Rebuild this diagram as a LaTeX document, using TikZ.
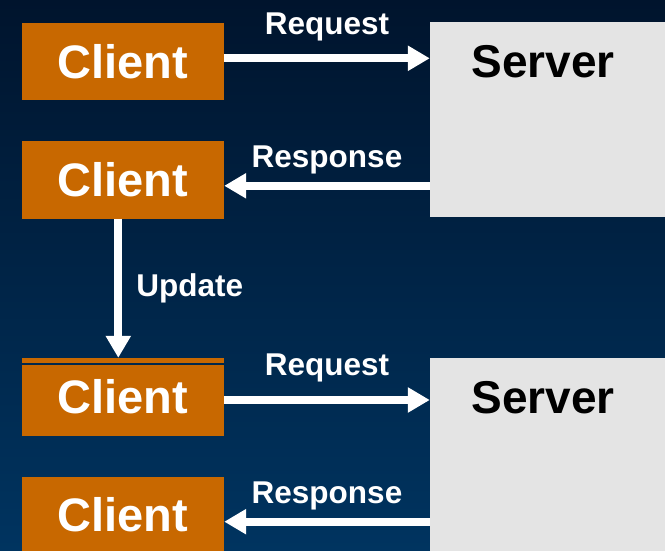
\documentclass[tikz,border=0pt]{standalone}
\usepackage{fontspec}
\setsansfont{Liberation Sans}
\usetikzlibrary{positioning, arrows.meta}

\definecolor{bgtop}{RGB}{0,20,45}
\definecolor{bgbottom}{RGB}{0,52,96}
\definecolor{seamblue}{RGB}{0,40,76}
\definecolor{clientorange}{RGB}{200,104,0}
\definecolor{servergray}{RGB}{228,228,228}

\begin{document}
\begin{tikzpicture}[
    % GLOBAL CFG
    x=1pt, y=-1pt,
    font=\sffamily\bfseries,
    >={Triangle[length=22pt,width=24pt]},
    % Styles
    client/.style={% For the orange client boxes
        rectangle,
        fill=clientorange,
        text=white,
        font=\sffamily\bfseries\fontsize{47}{50}\selectfont,
        minimum width=202pt,
        minimum height=77pt,
        inner sep=0pt,
        },
    server/.style={% For the grey server boxes
        rectangle,
        fill=servergray,
        minimum width=240pt,
        inner sep=0pt,
        },
    servername/.style={% Text on top of the server
        text=black,
        font=\sffamily\bfseries\fontsize{46}{50}\selectfont,
        inner sep=0pt,
        },
    msglabel/.style={% Request, Response, Update
        text=white,
        font=\sffamily\bfseries\fontsize{31.5}{34}\selectfont,
        inner sep=0pt,
        },
    msg/.style={% White fat arrows
        ->,
        white,
        line width=8pt,
        },
    ]

    % Background
    \useasboundingbox (0,0) rectangle (665,551);
    \clip (0,0) rectangle (665,551);
    \shade [top color=bgtop, bottom color=bgbottom] (0,0) rectangle (665,551);

    % Draw the clients
    \node [client] (client1) at (123,62) {Client};
    \node [client] (client2) at (123,180) {Client};
    \node [client, minimum height=78pt] (client3) at (123,397) {Client};
    \node [client] (client4) at (123,515) {Client};

    % thin seam on top of the third client
    \draw [seamblue, line width=1.4pt] ([yshift=-6pt]client3.north west) -- ([yshift=-6pt]client3.north east);

    % Draw the servers
    \node [server, minimum height=195pt] (server1) at (550,119.5) {};
    \node [server, minimum height=198pt] (server2) at (550,457) {};
    \node [servername] (server1name) at (543,62) {Server};
    \node [servername] (server2name) at (543,398) {Server};

    % First round
    \draw [msg] ([yshift=3.7pt]client1.east) -- ([yshift=3.7pt]client1.east -| server1.west)
        node [msglabel, midway, above=13pt] (request1) {Request};
    \draw [msg] ([yshift=-5.8pt]client2.east -| server1.west) -- ([yshift=-5.8pt]client2.east)
        node [msglabel, midway, above=7.5pt] (response1) {Response};

    % Update
    \draw [msg] ([xshift=-4.7pt]client2.south) -- ([xshift=-4.7pt]client3.north)
        node [msglabel, midway, right=14pt] (update) {Update};

    % Second round
    \draw [msg] ([yshift=-3pt]client3.east) -- ([yshift=-3pt]client3.east -| server2.west)
        node [msglabel, midway, above=13.5pt] (request2) {Request};
    \draw [msg] ([yshift=-6.7pt]client4.east -| server2.west) -- ([yshift=-6.7pt]client4.east)
        node [msglabel, midway, above=7.5pt] (response2) {Response};

\end{tikzpicture}
\end{document}
